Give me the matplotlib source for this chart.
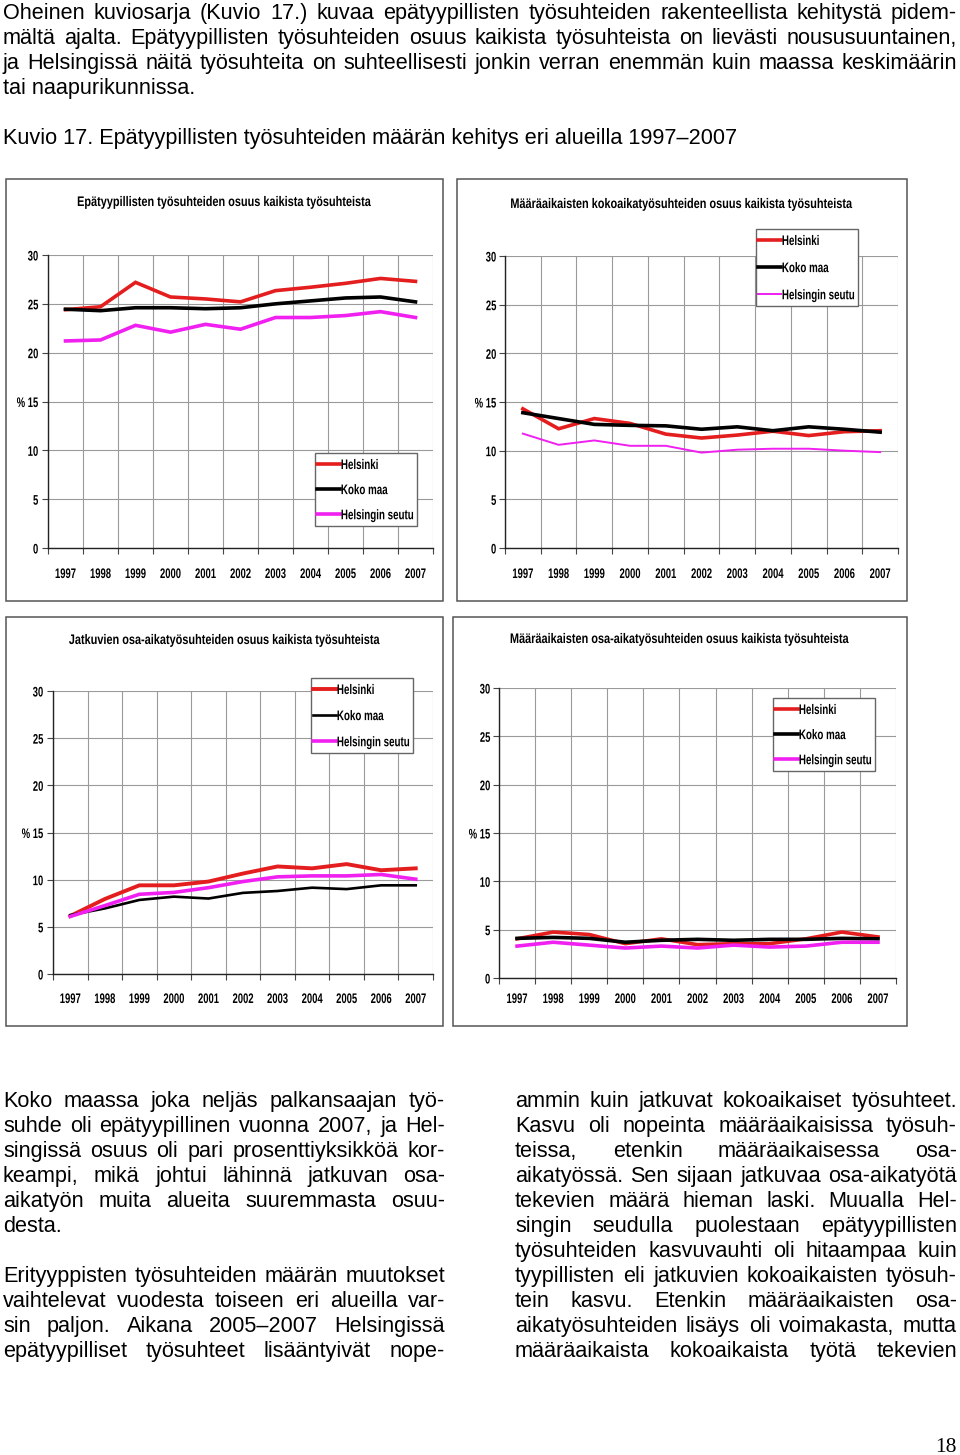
import matplotlib
matplotlib.use('Agg')
import matplotlib.pyplot as plt
from matplotlib import font_manager as fm
from matplotlib.patches import Rectangle
from matplotlib.patheffects import AbstractPathEffect
from matplotlib.transforms import Affine2D

# Page size in pixels
W, H = 960, 1455

years = ['1997', '1998', '1999', '2000', '2001', '2002', '2003', '2004', '2005', '2006', '2007']
series_names = ['Helsinki', 'Koko maa', 'Helsingin seutu']
y_ticks = [0, 5, 10, 15, 20, 25, 30]
y_labels = ['0', '5', '10', '% 15', '20', '25', '30']

# Epätyypillisten työsuhteiden osuus
epatyyp_helsinki = [24.4, 24.7, 27.2, 25.7, 25.5, 25.2, 26.35, 26.7, 27.1, 27.6, 27.3]
epatyyp_kokomaa = [24.45, 24.3, 24.6, 24.6, 24.5, 24.6, 25.0, 25.3, 25.6, 25.7, 25.2]
epatyyp_seutu = [21.2, 21.3, 22.8, 22.1, 22.9, 22.4, 23.6, 23.6, 23.8, 24.2, 23.6]

# Määräaikaiset kokoaikatyösuhteet
mkoko_helsinki = [14.3, 12.25, 13.3, 12.8, 11.7, 11.3, 11.6, 12.0, 11.55, 11.95, 12.05]
mkoko_kokomaa = [13.9, 13.3, 12.7, 12.6, 12.55, 12.2, 12.45, 12.05, 12.45, 12.2, 11.9]
mkoko_seutu = [11.75, 10.6, 11.05, 10.5, 10.5, 9.8, 10.1, 10.2, 10.2, 10.0, 9.85]

# Jatkuvat osa-aikatyösuhteet
josa_helsinki = [6.15, 7.95, 9.4, 9.4, 9.8, 10.65, 11.4, 11.2, 11.65, 11.0, 11.2]
josa_kokomaa = [6.25, 6.95, 7.85, 8.2, 8.0, 8.6, 8.8, 9.15, 9.0, 9.4, 9.4]
josa_seutu = [6.1, 7.25, 8.45, 8.65, 9.15, 9.8, 10.3, 10.4, 10.4, 10.55, 10.05]

# Määräaikaiset osa-aikatyösuhteet
mosa_helsinki = [4.05, 4.75, 4.5, 3.55, 4.05, 3.45, 3.55, 3.55, 4.05, 4.75, 4.25]
mosa_kokomaa = [4.1, 4.2, 4.1, 3.7, 3.9, 4.0, 3.9, 4.0, 4.0, 4.1, 4.05]
mosa_seutu = [3.3, 3.7, 3.4, 3.1, 3.3, 3.1, 3.4, 3.2, 3.3, 3.7, 3.7]

titles = [
    'Epätyypillisten työsuhteiden osuus kaikista työsuhteista',
    'Määräaikaisten kokoaikatyösuhteiden osuus kaikista työsuhteista',
    'Jatkuvien osa-aikatyösuhteiden osuus kaikista työsuhteista',
    'Määräaikaisten osa-aikatyösuhteiden osuus kaikista työsuhteista',
]

top_lines = [
    'Oheinen kuviosarja (Kuvio 17.) kuvaa epätyypillisten työsuhteiden rakenteellista kehitystä pidem-',
    'mältä ajalta. Epätyypillisten työsuhteiden osuus kaikista työsuhteista on lievästi noususuuntainen,',
    'ja Helsingissä näitä työsuhteita on suhteellisesti jonkin verran enemmän kuin maassa keskimäärin',
    'tai naapurikunnissa.',
]
caption = 'Kuvio 17. Epätyypillisten työsuhteiden määrän kehitys eri alueilla 1997–2007'

left_lines = [
    'Koko maassa joka neljäs palkansaajan työ-',
    'suhde oli epätyypillinen vuonna 2007, ja Hel-',
    'singissä osuus oli pari prosenttiyksikköä kor-',
    'keampi, mikä johtui lähinnä jatkuvan osa-',
    'aikatyön muita alueita suuremmasta osuu-',
    'desta.',
    '',
    'Erityyppisten työsuhteiden määrän muutokset',
    'vaihtelevat vuodesta toiseen eri alueilla var-',
    'sin paljon. Aikana 2005–2007 Helsingissä',
    'epätyypilliset työsuhteet lisääntyivät nope-',
]
right_lines = [
    'ammin kuin jatkuvat kokoaikaiset työsuhteet.',
    'Kasvu oli nopeinta määräaikaisissa työsuh-',
    'teissa, etenkin määräaikaisessa osa-',
    'aikatyössä. Sen sijaan jatkuvaa osa-aikatyötä',
    'tekevien määrä hieman laski. Muualla Hel-',
    'singin seudulla puolestaan epätyypillisten',
    'työsuhteiden kasvuvauhti oli hitaampaa kuin',
    'tyypillisten eli jatkuvien kokoaikaisten työsuh-',
    'tein kasvu. Etenkin määräaikaisten osa-',
    'aikatyösuhteiden lisäys oli voimakasta, mutta',
    'määräaikaista kokoaikaista työtä tekevien',
]


# chart texts look like Arial Bold squeezed sideways
class Squeeze(AbstractPathEffect):
    def __init__(self, sx, anchor='center'):
        super().__init__()
        self.sx = sx
        self.anchor = anchor

    def draw_path(self, renderer, gc, tpath, affine, rgbFace=None):
        ext = tpath.transformed(affine).get_extents()
        if self.anchor == 'left':
            x0 = ext.x0
        elif self.anchor == 'right':
            x0 = ext.x1
        else:
            x0 = (ext.x0 + ext.x1) / 2
        sq = Affine2D().translate(-x0, 0).scale(self.sx, 1).translate(x0, 0)
        renderer.draw_path(gc, tpath, affine + sq, rgbFace)


fig = plt.figure(figsize=(W / 100, H / 100), dpi=100)
renderer = fig.canvas.get_renderer()


def fx(x):
    return x / W


def fy(y):
    return 1 - y / H


def text_width(s, fp):
    t = fig.text(0, 0, s, fontproperties=fp)
    w = t.get_window_extent(renderer).width
    t.remove()
    return w


# body font sized so that the caption has the same width as in the page
body_fp = fm.FontProperties(family='Liberation Sans', size=14)
body_size = 14 * 738 / text_width(caption, body_fp)
body_fp = fm.FontProperties(family='Liberation Sans', size=body_size)

title_fp = fm.FontProperties(family='Liberation Sans', weight='bold', size=10)
title_sx = 294 / text_width(titles[0], title_fp)
tick_fp = fm.FontProperties(family='Liberation Sans', weight='bold', size=10)
tick_sx = 0.68
legend_fp = fm.FontProperties(family='Liberation Sans', weight='bold', size=10)
legend_sx = 73 / text_width('Helsingin seutu', legend_fp)


def put_line(x0, x1, y, line, justify):
    if not line:
        return
    words = line.split(' ')
    if not justify or len(words) < 2:
        fig.text(fx(x0), fy(y), line, fontproperties=body_fp, va='baseline', ha='left')
        return
    widths = [text_width(w, body_fp) for w in words]
    gap = (x1 - x0 - sum(widths)) / (len(words) - 1)
    x = x0
    for w, wd in zip(words, widths):
        fig.text(fx(x), fy(y), w, fontproperties=body_fp, va='baseline', ha='left')
        x += wd + gap


# top paragraph
for i, line in enumerate(top_lines):
    put_line(3, 957, 19 + 25 * i, line, i < len(top_lines) - 1)
fig.text(fx(3), fy(144), caption, fontproperties=body_fp, va='baseline', ha='left')

# two columns below the charts
for i, line in enumerate(left_lines):
    put_line(3, 445, 1107 + 25 * i, line, i != 5)
for i, line in enumerate(right_lines):
    put_line(515, 957, 1107 + 25 * i, line, True)

fig.text(fx(957), fy(1452), '18', family='Liberation Serif', fontsize=15.5,
         ha='right', va='baseline')

red = '#e41e1e'
black = '#000000'
magenta = '#f020f0'

charts = [
    dict(data=(epatyyp_helsinki, epatyyp_kokomaa, epatyyp_seutu),
         panel=(6, 179, 443, 601), axes=(48, 255, 433, 548), title_xy=(224, 202),
         legend=(315, 453), lw=(2.6, 2.6, 2.6), ygap=8, xpad=19, rows=25),
    dict(data=(mkoko_helsinki, mkoko_kokomaa, mkoko_seutu),
         panel=(457, 179, 907, 601), axes=(505, 256, 898, 548), title_xy=(681, 204),
         legend=(756, 229), lw=(2.6, 2.6, 1.4), ygap=7, xpad=19, rows=27),
    dict(data=(josa_helsinki, josa_kokomaa, josa_seutu),
         panel=(6, 617, 443, 1026), axes=(53, 691, 433, 974), title_xy=(224, 640),
         legend=(311, 678), lw=(2.8, 1.9, 2.6), ygap=8, xpad=18, rows=26),
    dict(data=(mosa_helsinki, mosa_kokomaa, mosa_seutu),
         panel=(453, 617, 907, 1026), axes=(499, 688, 896, 978), title_xy=(679, 639),
         legend=(773, 698), lw=(2.6, 2.6, 2.6), ygap=7, xpad=14, rows=25),
]

legends = []
for c, title in zip(charts, titles):
    x0, y0, x1, y1 = c['panel']
    fig.patches.append(Rectangle((fx(x0), fy(y1)), (x1 - x0) / W, (y1 - y0) / H,
                                 transform=fig.transFigure, fill=False,
                                 ec='#555555', lw=1.1))
    l, t, r, b = c['axes']
    ax = fig.add_axes([fx(l), fy(b), (r - l) / W, (b - t) / H])
    ax.set_xlim(0, len(years))
    ax.set_ylim(0, 30)
    ax.set_autoscale_on(False)
    ax.set_axisbelow(True)
    xs = [i + 0.5 for i in range(len(years))]
    for vals, name, col, lw in zip(c['data'], series_names, (red, black, magenta), c['lw']):
        ax.plot(xs, vals, color=col, lw=lw, label=name, solid_joinstyle='miter')

    ax.set_xticks(range(len(years) + 1))
    ax.set_xticklabels([])
    ax.set_xticks(xs, minor=True)
    ax.set_xticklabels(years, minor=True, fontproperties=tick_fp)
    ax.tick_params(axis='x', which='major', direction='out', length=4, width=0.8, color='#444444')
    ax.tick_params(axis='x', which='minor', length=0, pad=c['xpad'] * 0.72)
    ax.set_yticks(y_ticks)
    ax.set_yticklabels(y_labels, fontproperties=tick_fp)
    ax.tick_params(axis='y', direction='out', length=4, width=0.8, color='#444444',
                   pad=(c['ygap'] - 4) * 0.72)
    for lab in ax.get_xticklabels(minor=True):
        lab.set_path_effects([Squeeze(tick_sx, 'center')])
    for lab in ax.get_yticklabels():
        lab.set_path_effects([Squeeze(tick_sx, 'right')])
    ax.grid(True, which='major', color='#9a9a9a', lw=0.8)
    for s in ('top', 'right'):
        ax.spines[s].set_visible(False)
    for s in ('left', 'bottom'):
        ax.spines[s].set_color('#222222')
        ax.spines[s].set_linewidth(1.0)

    fig.text(fx(c['title_xy'][0]), fy(c['title_xy'][1]), title, fontproperties=title_fp,
             ha='center', va='center', path_effects=[Squeeze(title_sx, 'center')])

    # legend: text squeezed, frame drawn afterwards to fit the squeezed text
    fs = legend_fp.get_size_in_points()
    bx, by = c['legend']
    leg = ax.legend(loc='upper left', bbox_to_anchor=(fx(bx + 2), fy(by + 5)),
                    bbox_transform=fig.transFigure, prop=legend_fp, frameon=False,
                    borderaxespad=0, borderpad=0, handlelength=1.65, handletextpad=0.05,
                    labelspacing=(c['rows'] * 0.72 - fs * 1.0) / fs)
    for txt in leg.get_texts():
        txt.set_path_effects([Squeeze(legend_sx, 'left')])
    leg.set_zorder(6)
    legends.append(leg)

# frames round the legends, drawn in the axes just under the legend
fig.canvas.draw()
for leg in legends:
    bb = leg.get_window_extent(renderer)
    textw = max(tx.get_window_extent(renderer).width for tx in leg.get_texts())
    left = bb.x0 - 2
    right = bb.x1 - (1 - legend_sx) * textw + 3
    top = bb.y1 + 5
    bottom = bb.y0 - 4
    frame = Rectangle((left / W, bottom / H), (right - left) / W, (top - bottom) / H,
                      transform=fig.transFigure, fc='white', ec='#666666', lw=1.0,
                      zorder=5.5, clip_on=False)
    leg.axes.add_artist(frame)

fig.savefig('out.png', dpi=100)
